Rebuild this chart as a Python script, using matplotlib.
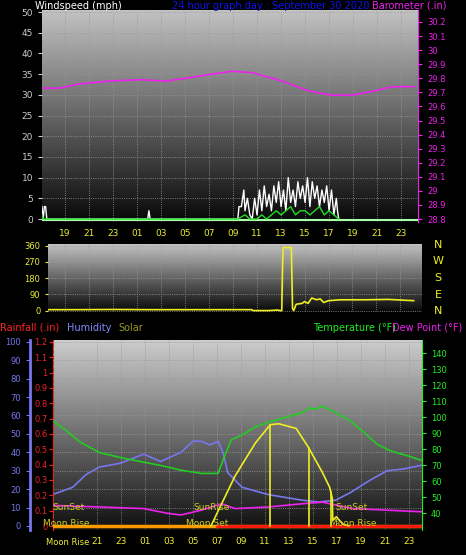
import numpy as np
import matplotlib.pyplot as plt

W, H = 466, 555

# ----------------------------
# Data (hours from midnight of the previous day, 24 = 00:00)
# ----------------------------
baro_h = [17.2, 18.6, 20.2, 22.7, 25.2, 27.4, 29.1, 31.3, 32.9, 34.6, 37.1, 39.3, 41.2, 42.9, 44.8, 46.2, 48.1]
baro_v = [29.73, 29.73, 29.76, 29.78, 29.79, 29.78, 29.80, 29.83, 29.85, 29.84, 29.78, 29.71, 29.68, 29.68, 29.71, 29.74, 29.74]

gust_h = [17.1, 17.2, 17.3, 17.4, 17.5, 17.6, 17.7, 25.9, 26.0, 26.1,
          33.4, 33.5, 33.7, 33.9, 34.0, 34.2, 34.4, 34.6, 34.8, 35.0, 35.2, 35.4, 35.6,
          35.8, 36.0, 36.2, 36.4, 36.6, 36.8, 37.0, 37.2, 37.4, 37.6, 37.8, 38.0, 38.2,
          38.4, 38.6, 38.8, 39.0, 39.2, 39.4, 39.6, 39.8, 40.0, 40.2, 40.4, 40.6, 40.8,
          41.0, 41.2, 41.4, 41.6, 41.7, 41.8]
gust_v = [3, 0, 3, 3, 0, 0, 0, 0, 2, 0,
          0, 3, 3, 7, 2, 5, 1, 0, 5, 1, 7, 2, 8, 3,
          6, 2, 8, 4, 9, 3, 7, 2, 10, 4, 7, 3, 9, 5,
          8, 4, 10, 3, 9, 5, 8, 3, 7, 4, 8, 2, 7, 1, 5, 2, 0]
avg_h = [17.1, 17.2, 17.4, 33.4, 34.0, 34.4, 35.0, 35.4, 35.8, 36.2, 36.6, 37.0, 37.4,
         37.8, 38.2, 38.6, 39.0, 39.4, 39.8, 40.2, 40.6, 41.0, 41.4, 41.8]
avg_v = [1, 0, 0, 0, 1, 0, 0, 1, 0, 1, 2, 1, 2, 3, 1, 2, 2, 1, 2, 3, 1, 2, 1, 0]

dir_h = [17.3, 20.0, 23.0, 26.0, 29.0, 32.0, 34.6, 34.7, 36.0, 36.8, 36.9, 37.1, 37.2, 37.9,
         38.0, 38.1, 38.3, 38.8, 39.0, 39.3, 39.6, 40.0, 40.3, 40.6, 41.0, 42.0, 44.0, 46.0, 48.1]
dir_v = [5, 5, 6, 5, 5, 5, 5, 0, 0, 3, 0, 0, 350, 350, 10, 0, 35, 40, 50, 40, 70, 60,
         65, 45, 55, 60, 60, 62, 55]

hum_h = [17.28, 18.97, 20.1, 21.2, 22.9, 24.9, 26.3, 28.0, 29.0, 29.7, 30.4, 31.1, 31.5, 31.9,
         33.1, 34.2, 35.3, 38.1, 39.5, 40.9, 42.1, 43.8, 45.2, 46.6, 48.1]
hum_v = [17, 21, 28, 32, 34, 39, 35, 40, 46, 46, 44, 46, 40, 29, 21, 19, 17, 14, 13, 14, 18, 25, 30, 31, 33]

temp_h = [17.28, 18.4, 19.5, 21.2, 22.9, 24.9, 26.3, 28.0, 29.7, 31.1, 31.7, 32.2, 33.1, 34.2,
          35.3, 36.7, 38.1, 38.7, 39.2, 39.8, 40.9, 42.1, 43.2, 44.4, 45.5, 46.9, 48.1]
temp_v = [98, 92, 85, 78, 75, 72, 70, 67, 65, 65, 77, 86, 89, 94, 97, 100, 103, 106, 105, 107,
          103, 98, 91, 83, 79, 76, 73]

dew_h = [17.28, 21.2, 24.9, 26.9, 28.0, 29.7, 31.4, 32.5, 35.3, 38.1, 39.8, 42.3, 45.2, 48.1]
dew_v = [45, 44, 43, 40, 39, 42, 46, 43, 44, 46, 47, 43, 42, 41]

solar_h = [30.5, 32.5, 34.2, 35.45, 36.15, 37.6, 38.6, 39.8, 40.4, 40.62, 40.66, 40.95, 41.5, 42.0]
solar_v = [0, 270, 450, 550, 555, 530, 430, 290, 210, 150, 30, 50, 10, 0]
solar_drop = [35.45, 38.65, 40.5]

hour_ticks = list(range(19, 48, 2))
hour_labels = ["%02d" % (t % 24) for t in hour_ticks]
compass = ["N", "W", "S", "E", "N"]


def box(x0, y0, x1, y1):
    return [x0 / W, 1 - y1 / H, (x1 - x0) / W, (y1 - y0) / H]


def backdrop(ax, top=0.76, bottom=0.03):
    grad = np.linspace(top, bottom, 256).reshape(-1, 1)
    ax.imshow(grad, cmap="gray", vmin=0, vmax=1, aspect="auto",
              extent=[0, 1, 0, 1], transform=ax.transAxes, zorder=0)
    ax.grid(True, color="#999999", linestyle=":", linewidth=0.6)
    ax.set_axisbelow(False)


fig = plt.figure(figsize=(W / 100, H / 100), dpi=100, facecolor="black")

# ----------------------------
# Wind / barometer
# ----------------------------
ax1 = fig.add_axes(box(42, 10, 418, 222))
backdrop(ax1)
ax1.set_xlim(17.1, 48.4)
ax1.set_ylim(-0.72, 50.5)
ax1.plot(gust_h, gust_v, color="white", lw=1, zorder=3)
ax1.plot(avg_h, avg_v, color="#22dd22", lw=1, zorder=4)
ax1.axhline(-0.3, color="#aaffaa", lw=1.5, zorder=3)
ax1.set_yticks(range(0, 51, 5))
ax1.set_xticks(hour_ticks)
ax1.set_xticklabels(hour_labels)
ax1.tick_params(axis="x", colors="#eeee33", labelsize=6.5, length=0, pad=5)
ax1.tick_params(axis="y", colors="#cccccc", labelsize=6.5, length=3)
b1 = ax1.twinx()
b1.set_ylim(28.779, 30.285)
b1.plot(baro_h, baro_v, color="#ee22ee", lw=1.2, zorder=3)
b1.set_yticks(np.round(np.arange(28.8, 30.21, 0.1), 1))
b1.set_yticklabels(["%g" % v for v in np.round(np.arange(28.8, 30.21, 0.1), 1)])
b1.tick_params(axis="y", colors="#ee22ee", labelsize=6, length=3)
for a in (ax1, b1):
    for s in a.spines.values():
        s.set_visible(False)
b1.spines["right"].set_visible(True)
b1.spines["right"].set_color("#ee22ee")

fig.text(35 / W, 1 - 9 / H, "Windspeed (mph)", color="white", fontsize=7)
fig.text(172 / W, 1 - 9 / H, "24 hour graph day : September 30 2020", color="#1111ee", fontsize=7)
fig.text(372 / W, 1 - 9 / H, "Barometer (.in)", color="#ee22ee", fontsize=7)

# ----------------------------
# Wind direction
# ----------------------------
ax2 = fig.add_axes(box(48, 244, 422, 312))
backdrop(ax2)
ax2.set_xlim(17.6, 48.8)
ax2.set_ylim(-8, 370)
ax2.plot(dir_h, dir_v, color="#eeee22", lw=1.2, zorder=3)
ax2.set_yticks([0, 90, 180, 270, 360])
ax2.set_xticks(hour_ticks)
ax2.tick_params(axis="x", length=0, labelbottom=False)
ax2.tick_params(axis="y", colors="#eeee33", labelsize=6, length=2)
for s in ax2.spines.values():
    s.set_visible(False)
for i, c in enumerate(compass):
    fig.text(438 / W, 1 - (248 + i * 16.5) / H, c, color="#eeee22", fontsize=8, ha="center")

fig.text(0, 1 - 331 / H, "Rainfall (.in)", color="#ff2222", fontsize=7)
fig.text(67 / W, 1 - 331 / H, "Humidity", color="#8888ff", fontsize=7)
fig.text(118 / W, 1 - 331 / H, "Solar", color="#999922", fontsize=7)
fig.text(313 / W, 1 - 331 / H, "Temperature (°F)", color="#22ee22", fontsize=7)
fig.text(392 / W, 1 - 331 / H, "Dew Point (°F)", color="#ee22ee", fontsize=7)

# ----------------------------
# Humidity / rain / temperature / solar
# ----------------------------
ax3 = fig.add_axes(box(53, 340, 422, 530))
backdrop(ax3, 0.8, 0.06)
ax3.set_xlim(17.33, 48.1)
ax3.set_ylim(-2.2, 101)
ax3.plot(hum_h, hum_v, color="#7777ee", lw=1.2, zorder=3)
ax3.set_yticks(range(0, 101, 10))
ax3.set_xticks(hour_ticks[1:])
ax3.set_xticklabels(hour_labels[1:])
ax3.tick_params(axis="x", colors="#eeee33", labelsize=6.5, length=0, pad=5)
ax3.tick_params(axis="y", colors="#7777ee", labelsize=6, length=3)
for s in ax3.spines.values():
    s.set_visible(False)
ax3.spines["left"].set_visible(True)
ax3.spines["left"].set_position(("outward", 16.5))
ax3.spines["left"].set_color("#7777ee")
ax3.spines["left"].set_linewidth(2)

r3 = ax3.twinx()
r3.set_ylim(-0.026, 1.212)
r3.yaxis.tick_left()
r3.set_yticks(np.round(np.arange(0, 1.21, 0.1), 1))
r3.set_yticklabels(["0"] + ["%g" % v for v in np.round(np.arange(0.1, 1.21, 0.1), 1)])
r3.tick_params(axis="y", colors="#ee2222", labelsize=6, length=3, pad=1)
r3.plot([17.33, 48.1], [0, 0], color="#ff9900", lw=2.5, zorder=3)
r3.plot([31.0, 48.1], [0, 0], color="#ff1111", lw=2, zorder=3)
for s in r3.spines.values():
    s.set_visible(False)
r3.spines["left"].set_visible(True)
r3.spines["left"].set_color("#ee2222")
r3.spines["left"].set_linestyle("--")

t3 = ax3.twinx()
t3.set_ylim(29.6, 148.4)
t3.plot(temp_h, temp_v, color="#22cc22", lw=1.2, zorder=3)
t3.plot(dew_h, dew_v, color="#ee22ee", lw=1.2, zorder=3)
t3.set_yticks(range(40, 141, 10))
t3.tick_params(axis="y", colors="#22ee22", labelsize=6, length=3)
for s in t3.spines.values():
    s.set_visible(False)
t3.spines["right"].set_visible(True)
t3.spines["right"].set_color("#22ee22")

s3 = ax3.twinx()
s3.set_ylim(-22, 1010)
s3.plot(solar_h, solar_v, color="#eeee22", lw=1.2, zorder=3)
for h in solar_drop:
    s3.plot([h, h], [0, np.interp(h, solar_h, solar_v)], color="#eeee22", lw=1.2)
s3.axis("off")

for txt, x, y in [("SunSet", 52, 510), ("SunRise", 193, 510), ("SunSet", 335, 510),
                  ("Moon Rise", 43, 526), ("Moon Set", 186, 526), ("Moon Rise", 330, 526)]:
    fig.text(x / W, 1 - y / H, txt, color="#cccc22", fontsize=6.5)
fig.text(46 / W, 1 - 545 / H, "Moon Rise", color="#eeee33", fontsize=6)

fig.savefig("out.png", dpi=100, facecolor="black")
